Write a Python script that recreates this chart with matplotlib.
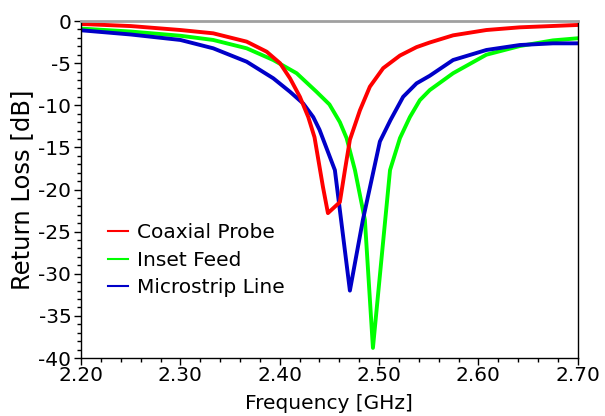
import numpy as np
import matplotlib.pyplot as plt
from matplotlib.ticker import MultipleLocator, FormatStrFormatter
from matplotlib.lines import Line2D

plt.rcParams["font.family"] = ["DejaVu Sans"]
plt.rcParams["axes.unicode_minus"] = False

# values
freq_coax = [2.20, 2.25, 2.30, 2.333, 2.3667, 2.3868, 2.4002, 2.4103, 2.4203,
             2.4287, 2.435, 2.4435, 2.4485, 2.4605, 2.4656, 2.4706, 2.4807,
             2.4907, 2.5041, 2.521, 2.5377, 2.551, 2.5745, 2.608, 2.6417,
             2.675, 2.70]
rl_coax = [-0.35, -0.6, -1.07, -1.46, -2.45, -3.64, -5.0, -6.8, -9.0,
           -11.4, -13.8, -19.7, -22.8, -21.5, -17.7, -14.1, -10.6,
           -7.8, -5.6, -4.1, -3.1, -2.55, -1.7, -1.07, -0.75,
           -0.59, -0.47]

freq_inset = [2.20, 2.25, 2.30, 2.333, 2.3667, 2.3935, 2.417, 2.437, 2.45,
              2.4605, 2.4673, 2.4757, 2.4857, 2.4938, 2.503, 2.511, 2.521,
              2.531, 2.541, 2.551, 2.5745, 2.608, 2.6417, 2.675, 2.70]
rl_inset = [-0.9, -1.25, -1.75, -2.25, -3.24, -4.63, -6.2, -8.4, -9.9,
            -12.0, -13.9, -17.7, -23.6, -38.8, -27.5, -17.7, -13.9,
            -11.4, -9.4, -8.2, -6.2, -4.0, -2.97, -2.3, -2.05]

freq_micro = [2.20, 2.25, 2.30, 2.333, 2.3667, 2.3935, 2.4103, 2.4237, 2.4337,
              2.44, 2.4555, 2.4706, 2.4837, 2.5008, 2.5115, 2.5242, 2.5377,
              2.551, 2.5745, 2.608, 2.6417, 2.675, 2.70]
rl_micro = [-1.1, -1.6, -2.25, -3.24, -4.83, -6.8, -8.4, -9.8, -11.4,
            -12.9, -17.7, -32.0, -23.6, -14.3, -11.75, -9.0, -7.4,
            -6.5, -4.63, -3.44, -2.85, -2.65, -2.65]

labels = ["Coaxial Probe", "Inset Feed", "Microstrip Line"]
colors = ["#ff0000", "#00ff00", "#0000c8"]

fig = plt.figure(figsize=(6.05, 4.16), dpi=100)
ax = fig.add_axes([0.134, 0.1394, 0.821, 0.8101])

# green first, red last so red sits on top
ax.plot(freq_inset, rl_inset, color=colors[1], lw=2.8, solid_joinstyle="round")
ax.plot(freq_micro, rl_micro, color=colors[2], lw=2.8, solid_joinstyle="round")
ax.plot(freq_coax, rl_coax, color=colors[0], lw=2.8, solid_joinstyle="round")

ax.set_xlim(2.20, 2.70)
ax.set_ylim(-40, 0)
ax.xaxis.set_major_locator(MultipleLocator(0.1))
ax.xaxis.set_minor_locator(MultipleLocator(0.02))
ax.xaxis.set_major_formatter(FormatStrFormatter("%.2f"))
ax.yaxis.set_major_locator(MultipleLocator(5))
ax.yaxis.set_minor_locator(MultipleLocator(1))
ax.yaxis.set_major_formatter(FormatStrFormatter("%d"))
ax.tick_params(which="major", direction="out", length=5, width=1, labelsize=14.5, pad=1)
ax.tick_params(which="minor", direction="out", length=3, width=1)
ax.tick_params(axis="y", pad=2)

for s in ["left", "bottom", "right"]:
    ax.spines[s].set_color("black")
    ax.spines[s].set_linewidth(1)
ax.spines["top"].set_color("#a0a0a0")
ax.spines["top"].set_linewidth(2)

ax.set_xlabel("Frequency [GHz]", fontsize=14.5, labelpad=6)
ax.set_ylabel("Return Loss [dB]", fontsize=17.5, labelpad=3)

handles = [Line2D([], [], color=c, lw=1.5) for c in colors]
ax.legend(handles, labels, loc="upper left", bbox_to_anchor=(0.054, 0.40),
          frameon=False, fontsize=14.5, handlelength=1.0, handletextpad=0.45,
          labelspacing=0.42, borderpad=0, borderaxespad=0)

fig.savefig("out.png", dpi=100)
